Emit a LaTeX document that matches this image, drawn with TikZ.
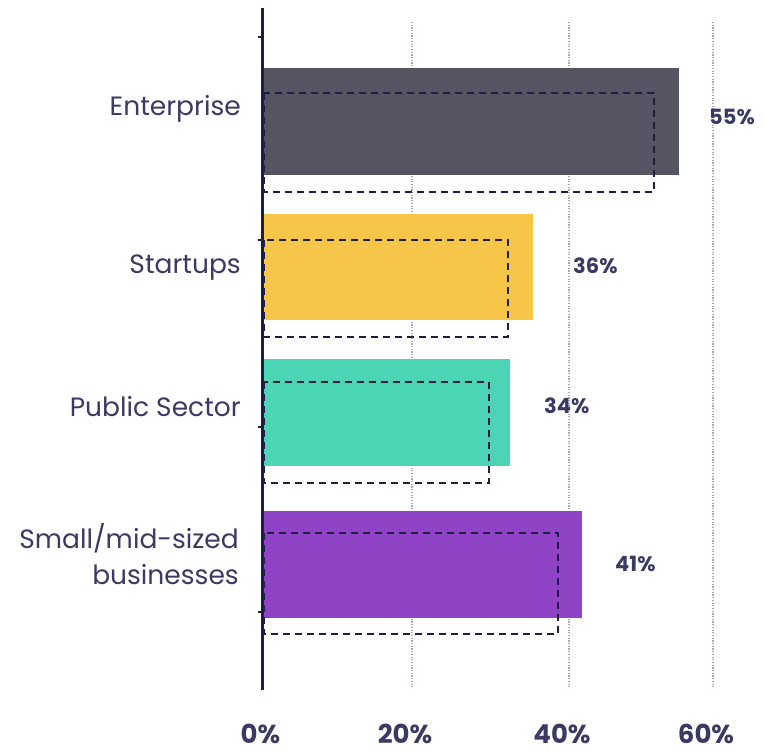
\documentclass[tikz,border=0pt]{standalone}
\usepackage{fontspec}
\setmainfont{Poppins}
\definecolor{inkblue}{HTML}{3A3A62}
\definecolor{axisblue}{HTML}{1E1E42}
\definecolor{gridlav}{HTML}{A4A4CC}
\definecolor{barent}{HTML}{555462}
\definecolor{barstart}{HTML}{F7C548}
\definecolor{barpub}{HTML}{4BD5B5}
\definecolor{barsmall}{HTML}{8E44C5}
\tikzset{
  catlabel/.style={anchor=base east, text=inkblue, font=\fontsize{26.5}{36}\selectfont, inner sep=0pt, align=right},
  vallabel/.style={anchor=base west, text=inkblue, font=\fontsize{21}{24}\selectfont\bfseries, inner sep=0pt},
  ticklabel/.style={anchor=base, text=inkblue, font=\fontsize{26}{28}\selectfont\bfseries, inner sep=0pt},
  gridline/.style={gridlav, line width=1.2pt, dash pattern=on 1.2pt off 1.5pt},
  prevbox/.style={axisblue, line width=2.8pt, dash pattern=on 7pt off 5pt}
}
\begin{document}
\begin{tikzpicture}[x=1pt, y=-1pt]
            \useasboundingbox (0,0) rectangle (765,751);
            % grid
            \draw[gridline] (412,22) -- (412,688);
            \draw[gridline] (569,22) -- (569,688);
            \draw[gridline] (713,22) -- (713,688);
            % bars
            \fill[barent] (262,68) rectangle (679,175);
            \fill[barstart] (262,214) rectangle (533,320);
            \fill[barpub] (262,359) rectangle (510,466);
            \fill[barsmall] (262,511) rectangle (582,618);
            % axis
            \draw[axisblue, line width=3pt] (262,8) -- (262,690);
            \draw[axisblue, line width=1.2pt] (258,37) -- (262,37);
            \draw[axisblue, line width=1.2pt] (258,240) -- (262,240);
            \draw[axisblue, line width=1.2pt] (258,427) -- (262,427);
            \draw[axisblue, line width=1.2pt] (258,612) -- (262,612);
            % previous year
            \draw[prevbox] (264,93) rectangle (654,192);
            \draw[prevbox] (264,240) rectangle (508,337);
            \draw[prevbox] (264,382) rectangle (489,483);
            \draw[prevbox] (264,533) rectangle (558,634);
            % labels
            \node[catlabel] (lblEnt) at (241,116) {Enterprise};
            \node[catlabel] (lblStart) at (241,273) {Startups};
            \node[catlabel] (lblPub) at (241,416) {Public Sector};
            \node[catlabel] (lblSmall) at (239,584) {Small/mid-sized\\businesses};
            \node[vallabel] (valEnt) at (709,125) {55\%};
            \node[vallabel] (valStart) at (573,273) {36\%};
            \node[vallabel] (valPub) at (544,413) {34\%};
            \node[vallabel] (valSmall) at (615,571) {41\%};
            \node[ticklabel] (tick0) at (260.5,743) {0\%};
            \node[ticklabel] (tick20) at (405,743) {20\%};
            \node[ticklabel] (tick40) at (562,743) {40\%};
            \node[ticklabel] (tick60) at (706,743) {60\%};
        \end{tikzpicture}
\end{document}
